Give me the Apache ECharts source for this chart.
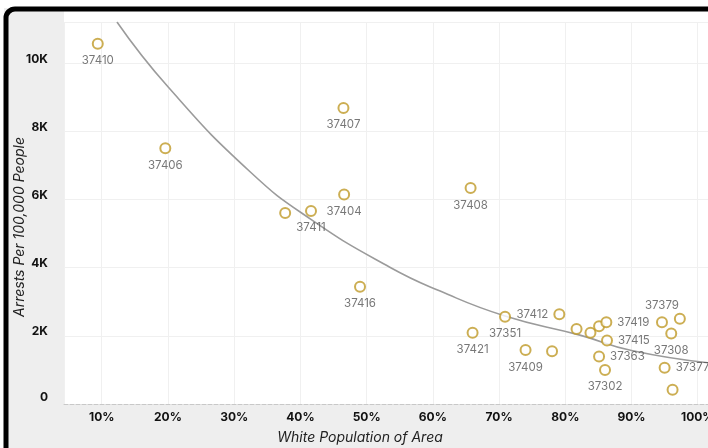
<!DOCTYPE html>
<html>
<head>
<meta charset="utf-8">
<script src="https://cdn.jsdelivr.net/npm/echarts@6/dist/echarts.min.js"></script>
<style>
html,body{margin:0;padding:0;background:#fff;}
#chart{width:708px;height:448px;}
</style>
</head>
<body>
<div id="chart"></div>
<script>
// ---- data ----
var zips = ['37410','37406','37407','37404','37411','','37416','37408','37421','37351','37412','37409','','','','','37419','37415','37363','37302','37379','','37308','37377',''];
var whitePct = [9.4, 19.6, 46.5, 46.6, 41.6, 37.7, 49.0, 65.7, 66.0, 70.9, 79.1, 74.0, 78.0, 81.7, 83.8, 85.1, 86.2, 86.3, 85.1, 86.0, 94.6, 97.3, 96.0, 95.0, 96.2];
var arrests = [10560, 7500, 8680, 6140, 5660, 5600, 3440, 6330, 2090, 2560, 2630, 1580, 1550, 2200, 2090, 2280, 2400, 1860, 1390, 1000, 2400, 2500, 2070, 1060, 420];
var labelPos = ['bottom','bottom','bottom','bottom','bottom','','bottom','bottom','bottom','bottom','left','bottom','','','','','right','right','right','bottom','top','','bottom','right',''];
var trendX = [12.3, 20, 32.4, 41.7, 53.5, 61.1, 70.9, 82.2, 90, 101.6];
var trendY = [11200, 9300, 6810, 5400, 4010, 3310, 2580, 2020, 1570, 1210];
var yTicks = [0, 2000, 4000, 6000, 8000, 10000];
var xTitle = 'White Population of Area';
var yTitle = 'Arrests Per 100,000 People';

var pts = whitePct.map(function (x, i) {
  var item = { value: [x, arrests[i]], name: zips[i] };
  if (labelPos[i]) {
    item.label = { show: true, position: labelPos[i] };
  }
  return item;
});
var trend = trendX.map(function (x, i) { return [x, trendY[i]]; });

var chart = echarts.init(document.getElementById('chart'), null, { renderer: 'canvas' });
var FONT = 'Inter, Roboto, sans-serif';
chart.setOption({
  animation: false,
  backgroundColor: '#ffffff',
  grid: { left: 64, right: 0, top: 22, bottom: 44, containLabel: false, outerBoundsMode: 'none' },
  xAxis: {
    type: 'value', min: 4.3, max: 101.55, splitNumber: 10,
    axisLine: { show: true, lineStyle: { color: '#c8c8c8', type: 'dashed', width: 1 } },
    axisTick: { show: false },
    splitLine: { show: true, lineStyle: { color: '#f0f0f0', width: 1 } },
    axisLabel: {
      showMinLabel: false, showMaxLabel: false, margin: 7, hideOverlap: false,
      color: '#111', fontWeight: 'bold', fontSize: 12, fontFamily: FONT,
      formatter: function (v) { return Math.round(v) + '%'; }
    }
  },
  yAxis: {
    type: 'value', min: 0, max: 11200, interval: 2000,
    axisLine: { show: false }, axisTick: { show: false },
    splitLine: { show: true, lineStyle: { color: '#f0f0f0', width: 1 } },
    axisLabel: {
      margin: 16, showMaxLabel: false,
      color: '#111', fontWeight: 'bold', fontSize: 12, fontFamily: FONT,
      formatter: function (v) {
        if (yTicks.indexOf(v) < 0) return '';
        return v === 0 ? '{z|0}' : '{k|' + (v / 1000) + 'K}';
      },
      rich: {
        z: { padding: [0, 0, 14, 0], color: '#111', fontWeight: 'bold', fontSize: 12, fontFamily: FONT },
        k: { padding: [0, 0, 8, 0], color: '#111', fontWeight: 'bold', fontSize: 12, fontFamily: FONT }
      }
    }
  },
  graphic: [
    { type: 'rect', z: -100, silent: true, shape: { x: 0, y: 0, width: 708, height: 448 }, style: { fill: '#eeeeee' } },
    { type: 'rect', z: -99, silent: true, shape: { x: 64, y: 11, width: 644, height: 393 }, style: { fill: '#ffffff' } },
    { type: 'rect', z: -100, silent: true, shape: { x: 0, y: 0, width: 708, height: 8 }, style: { fill: '#ffffff' } },
    { type: 'rect', z: -100, silent: true, shape: { x: 0, y: 0, width: 4, height: 448 }, style: { fill: '#ffffff' } },
    { type: 'rect', z: 100, silent: true, shape: { x: 6, y: 9, width: 900, height: 700, r: 9 }, style: { fill: null, stroke: '#000', lineWidth: 5 } },
    { type: 'text', z: 50, x: 360, y: 438, style: { text: xTitle, fill: '#222', font: 'italic 14px ' + FONT, textAlign: 'center', textVerticalAlign: 'middle' } },
    { type: 'text', z: 50, x: 20, y: 227, rotation: Math.PI / 2, style: { text: yTitle, fill: '#222', font: 'italic 14px ' + FONT, textAlign: 'center', textVerticalAlign: 'middle' } }
  ],
  series: [
    {
      type: 'line', data: trend, smooth: true, showSymbol: false, silent: true,
      lineStyle: { color: '#9b9b9b', width: 1.6 }, z: 2
    },
    {
      type: 'scatter', data: pts, symbol: 'circle', symbolSize: 10, z: 3,
      itemStyle: { color: '#ffffff', borderColor: '#bf9a28', borderWidth: 2 },
      label: {
        show: false, distance: 5, color: '#555', fontSize: 11.5, fontFamily: FONT,
        formatter: function (p) { return p.name; }
      }
    }
  ]
});
</script>
</body>
</html>
